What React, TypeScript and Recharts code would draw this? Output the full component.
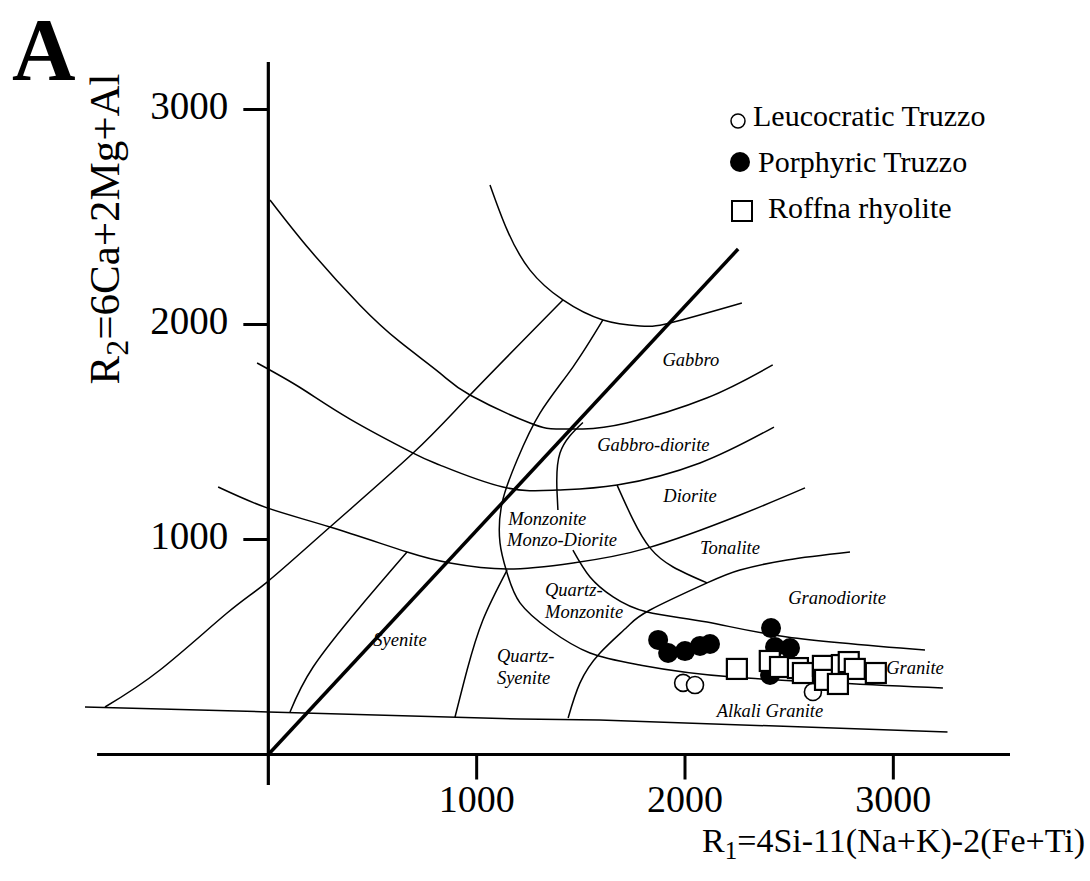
import React from 'react';
import {
  ComposedChart,
  Line,
  Scatter,
  XAxis,
  YAxis,
  ReferenceLine,
  ReferenceDot,
  Legend,
  Customized,
} from 'recharts';

// ---- axis ticks ----
const xTicks = [1000, 2000, 3000];
const yTicks = [1000, 2000, 3000];

// ---- sample data (R1, R2) ----
const leucocratic = [
  { x: 1991, y: 333 },
  { x: 2048, y: 323 },
  { x: 2614, y: 291 },
];
const porphyric = [
  { x: 1871, y: 533 },
  { x: 1919, y: 472 },
  { x: 2000, y: 481 },
  { x: 2072, y: 505 },
  { x: 2120, y: 514 },
  { x: 2413, y: 588 },
  { x: 2432, y: 500 },
  { x: 2504, y: 495 },
  { x: 2408, y: 370 },
  { x: 2734, y: 347 },
];
const roffna = [
  { x: 2249, y: 398 },
  { x: 2407, y: 435 },
  { x: 2456, y: 407 },
  { x: 2542, y: 402 },
  { x: 2566, y: 379 },
  { x: 2662, y: 412 },
  { x: 2672, y: 347 },
  { x: 2753, y: 416 },
  { x: 2786, y: 430 },
  { x: 2815, y: 398 },
  { x: 2916, y: 379 },
  { x: 2734, y: 328 },
];

// ---- field boundaries ----
const bottomLine = [
  { x: -880, y: 221 },
  { x: 0, y: 198 },
  { x: 1210, y: 165 },
  { x: 1590, y: 160 },
  { x: 3260, y: 105 },
];
const leftLong = [
  { x: -784, y: 221 },
  { x: -520, y: 393 },
  { x: -198, y: 658 },
  { x: -6, y: 802 },
  { x: 296, y: 1058 },
  { x: 695, y: 1402 },
  { x: 968, y: 1672 },
  { x: 1414, y: 2114 },
];
const curveB = [
  { x: 8, y: 2579 },
  { x: 200, y: 2346 },
  { x: 440, y: 2090 },
  { x: 632, y: 1919 },
  { x: 824, y: 1774 },
  { x: 968, y: 1672 },
  { x: 1256, y: 1542 },
  { x: 1386, y: 1514 },
  { x: 1510, y: 1514 },
  { x: 1720, y: 1542 },
  { x: 2104, y: 1658 },
  { x: 2421, y: 1812 },
];
const curveC = [
  { x: -54, y: 1821 },
  { x: 152, y: 1707 },
  { x: 392, y: 1560 },
  { x: 695, y: 1402 },
  { x: 824, y: 1346 },
  { x: 1126, y: 1244 },
  { x: 1386, y: 1230 },
  { x: 1674, y: 1253 },
  { x: 2072, y: 1356 },
  { x: 2427, y: 1523 },
];
const curveD = [
  { x: -241, y: 1244 },
  { x: -6, y: 1147 },
  { x: 296, y: 1058 },
  { x: 666, y: 942 },
  { x: 872, y: 891 },
  { x: 1146, y: 863 },
  { x: 1463, y: 891 },
  { x: 1818, y: 960 },
  { x: 2264, y: 1114 },
  { x: 2576, y: 1240 },
];
const gabbroArc = [
  { x: 1064, y: 2649 },
  { x: 1146, y: 2440 },
  { x: 1256, y: 2253 },
  { x: 1414, y: 2114 },
  { x: 1606, y: 2021 },
  { x: 1784, y: 1993 },
  { x: 1928, y: 2007 },
  { x: 2273, y: 2100 },
];
const monzoniteArc = [
  { x: 1606, y: 2021 },
  { x: 1462, y: 1802 },
  { x: 1304, y: 1588 },
  { x: 1194, y: 1370 },
  { x: 1122, y: 1170 },
  { x: 1112, y: 984 },
  { x: 1146, y: 844 },
  { x: 1208, y: 705 },
  { x: 1352, y: 579 },
  { x: 1544, y: 472 },
  { x: 1784, y: 416 },
  { x: 2230, y: 360 },
  { x: 3238, y: 309 },
];
const qMonzoniteArc = [
  { x: 1462, y: 951 },
  { x: 1544, y: 826 },
  { x: 1655, y: 733 },
  { x: 1818, y: 663 },
  { x: 2106, y: 616 },
  { x: 2490, y: 547 },
  { x: 3152, y: 486 },
];
const tonaliteArc = [
  { x: 1674, y: 1253 },
  { x: 1751, y: 1091 },
  { x: 1832, y: 961 },
  { x: 1943, y: 872 },
  { x: 2106, y: 798 },
];
const granodioriteLine = [
  { x: 1439, y: 170 },
  { x: 1496, y: 333 },
  { x: 1592, y: 472 },
  { x: 1722, y: 593 },
  { x: 1832, y: 672 },
  { x: 2106, y: 798 },
  { x: 2264, y: 858 },
  { x: 2490, y: 905 },
  { x: 2792, y: 942 },
];
const gabbroDioriteArc = [
  { x: 1510, y: 1544 },
  { x: 1400, y: 1402 },
  { x: 1386, y: 1216 },
  { x: 1390, y: 1137 },
];
const qSyeniteArc = [
  { x: 1146, y: 858 },
  { x: 1030, y: 626 },
  { x: 954, y: 393 },
  { x: 896, y: 174 },
];
const syeniteArc = [
  { x: 666, y: 942 },
  { x: 440, y: 686 },
  { x: 215, y: 407 },
  { x: 104, y: 198 },
];
const saturationLine = [
  { x: 0, y: 0 },
  { x: 2255, y: 2351 },
];

const thinCurves = [
  bottomLine,
  leftLong,
  curveB,
  curveC,
  curveD,
  gabbroArc,
  monzoniteArc,
  qMonzoniteArc,
  tonaliteArc,
  granodioriteLine,
  gabbroDioriteArc,
  qSyeniteArc,
  syeniteArc,
];

// ---- field names ----
const fieldNames = [
  { text: 'Gabbro', x: 2028, y: 1835, anchor: 'middle' },
  { text: 'Gabbro-diorite', x: 1848, y: 1440, anchor: 'middle' },
  { text: 'Diorite', x: 2024, y: 1202, anchor: 'middle' },
  { text: 'Monzonite', x: 1151, y: 1096, anchor: 'start' },
  { text: 'Monzo-Diorite', x: 1146, y: 996, anchor: 'start' },
  { text: 'Tonalite', x: 2216, y: 960, anchor: 'middle' },
  { text: 'Granodiorite', x: 2730, y: 728, anchor: 'middle' },
  { text: 'Granite', x: 3104, y: 402, anchor: 'middle' },
  { text: 'Alkali Granite', x: 2408, y: 202, anchor: 'middle' },
  { text: 'Quartz-', x: 1328, y: 764, anchor: 'start' },
  { text: 'Monzonite', x: 1328, y: 664, anchor: 'start' },
  { text: 'Quartz-', x: 1097, y: 456, anchor: 'start' },
  { text: 'Syenite', x: 1097, y: 356, anchor: 'start' },
  { text: 'Syenite', x: 632, y: 533, anchor: 'middle' },
];

const seriesNames = ['Leucocratic Truzzo', 'Porphyric Truzzo', 'Roffna rhyolite'];

const SERIF = '"Liberation Serif", "Times New Roman", Times, serif';

const OpenDot = (p: any) => (
  <circle cx={p.cx} cy={p.cy} r={8.5} fill="#fff" stroke="#000" strokeWidth={1.6} />
);
const FilledDot = (p: any) => <circle cx={p.cx} cy={p.cy} r={10} fill="#000" />;
const SquareMark = (p: any) => (
  <rect x={p.cx - 10} y={p.cy - 10} width={20} height={20} fill="#fff" stroke="#000" strokeWidth={2.2} />
);

const renderLegend = () => (
  <svg width={360} height={140} style={{ display: 'block' }}>
    <circle cx={18} cy={26} r={7} fill="#fff" stroke="#000" strokeWidth={1.5} />
    <text x={33} y={31} fontFamily={SERIF} fontSize={30} fill="#000">
      {seriesNames[0]}
    </text>
    <circle cx={20} cy={67} r={10} fill="#000" />
    <text x={38} y={77} fontFamily={SERIF} fontSize={30} fill="#000">
      {seriesNames[1]}
    </text>
    <rect x={12} y={106} width={20} height={20} fill="#fff" stroke="#000" strokeWidth={2} />
    <text x={48} y={123} fontFamily={SERIF} fontSize={30} fill="#000">
      {seriesNames[2]}
    </text>
  </svg>
);

const Titles = () => (
  <g fontFamily={SERIF} fill="#000">
    <text x={12} y={79} fontSize={88} fontWeight="bold">
      A
    </text>
    <text x={119} y={229} fontSize={43} textAnchor="middle" transform="rotate(-90, 119, 229)">
      R<tspan dy={9} fontSize={32}>2</tspan>
      <tspan dy={-9}>=6Ca+2Mg+Al</tspan>
    </text>
    <text x={1085} y={852} fontSize={34} textAnchor="end">
      R<tspan dy={7} fontSize={25}>1</tspan>
      <tspan dy={-7}>=4Si-11(Na+K)-2(Fe+Ti)</tspan>
    </text>
  </g>
);

export default function App() {
  return (
    <div style={{ position: 'absolute', left: 0, top: 0, background: '#fff' }}>
      <ComposedChart width={1090} height={881} margin={{ top: 45, right: 30, bottom: 62, left: 60 }}>
        <XAxis type="number" dataKey="x" domain={[-1000, 3800]} hide allowDataOverflow />
        <YAxis type="number" dataKey="y" domain={[-300, 3300]} hide allowDataOverflow />

        {/* axes */}
        <ReferenceLine
          segment={[
            { x: -822, y: 0 },
            { x: 3560, y: 0 },
          ]}
          stroke="#000"
          strokeWidth={3}
        />
        <ReferenceLine
          segment={[
            { x: 0, y: -142 },
            { x: 0, y: 3221 },
          ]}
          stroke="#000"
          strokeWidth={3.2}
        />

        {thinCurves.map((pts, i) => (
          <Line
            key={'c' + i}
            data={pts}
            dataKey="y"
            type={pts.length > 2 && i !== 0 ? 'natural' : 'linear'}
            stroke="#000"
            strokeWidth={1.5}
            dot={false}
            activeDot={false}
            legendType="none"
            isAnimationActive={false}
          />
        ))}
        <Line
          data={saturationLine}
          dataKey="y"
          type="linear"
          stroke="#000"
          strokeWidth={3.5}
          dot={false}
          activeDot={false}
          legendType="none"
          isAnimationActive={false}
        />

        {xTicks.map((v) => (
          <ReferenceDot
            key={'xt' + v}
            x={v}
            y={0}
            r={0}
            shape={(p: any) => (
              <g>
                <line x1={p.cx} y1={p.cy} x2={p.cx} y2={p.cy + 25} stroke="#000" strokeWidth={3} />
                <text x={p.cx} y={p.cy + 57} textAnchor="middle" fontFamily={SERIF} fontSize={38} fill="#000">
                  {v}
                </text>
              </g>
            )}
          />
        ))}
        {yTicks.map((v) => (
          <ReferenceDot
            key={'yt' + v}
            x={0}
            y={v}
            r={0}
            shape={(p: any) => (
              <g>
                <line x1={p.cx - 25} y1={p.cy} x2={p.cx} y2={p.cy} stroke="#000" strokeWidth={3} />
                <text x={p.cx - 40} y={p.cy + 9} textAnchor="end" fontFamily={SERIF} fontSize={39} fill="#000">
                  {v}
                </text>
              </g>
            )}
          />
        ))}

        {fieldNames.map((f, i) => (
          <ReferenceDot
            key={'f' + i}
            x={f.x}
            y={f.y}
            r={0}
            shape={(p: any) => (
              <text
                x={p.cx}
                y={p.cy}
                textAnchor={f.anchor as any}
                dominantBaseline="central"
                fontFamily={SERIF}
                fontStyle="italic"
                fontSize={18.5}
                fill="#000"
              >
                {f.text}
              </text>
            )}
          />
        ))}

        <Scatter name={seriesNames[0]} data={leucocratic} shape={OpenDot} isAnimationActive={false} />
        <Scatter name={seriesNames[1]} data={porphyric} shape={FilledDot} isAnimationActive={false} />
        <Scatter name={seriesNames[2]} data={roffna} shape={SquareMark} isAnimationActive={false} />

        <Legend
          layout="vertical"
          align="center"
          verticalAlign="middle"
          wrapperStyle={{ position: 'absolute', left: 720, top: 95, width: 360, height: 140 }}
          content={renderLegend}
        />
        <Customized component={Titles} />
      </ComposedChart>
    </div>
  );
}
